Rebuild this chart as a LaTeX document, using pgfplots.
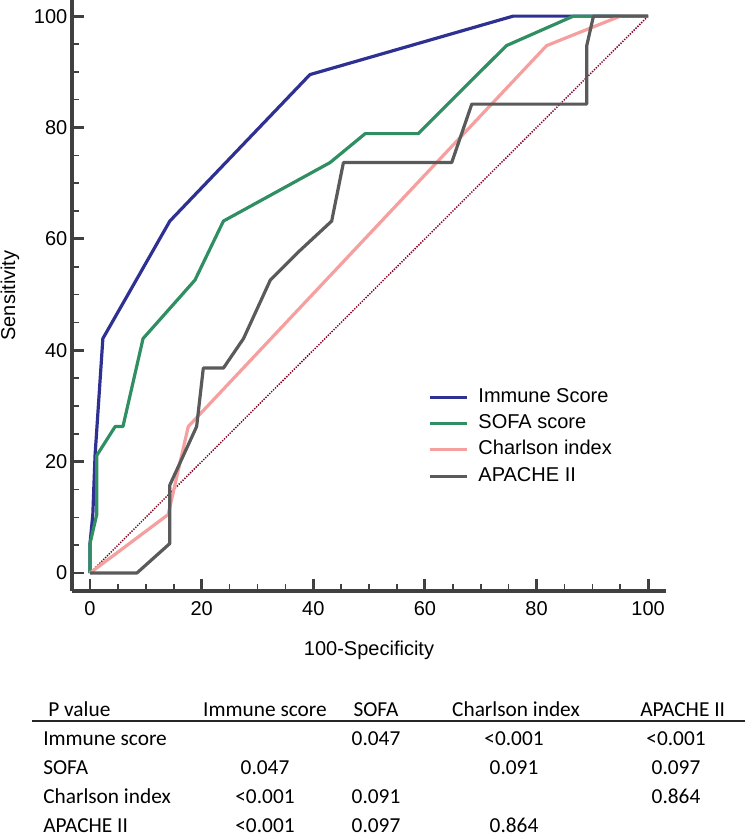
\documentclass[border=0pt]{standalone}
\usepackage{pgfplots}
\pgfplotsset{compat=1.18}
\usepackage{fontspec}
\setmainfont{Liberation Sans}
\newfontfamily\tabfont{Carlito}
\definecolor{cImm}{RGB}{46,49,146}
\definecolor{cSofa}{RGB}{47,143,98}
\definecolor{cCharl}{RGB}{245,160,158}
\definecolor{cApa}{RGB}{90,90,90}
\definecolor{cRef}{RGB}{128,0,32}
\definecolor{cAx}{RGB}{64,64,64}
\tikzset{tab/.style={inner sep=0pt, font=\tabfont\fontsize{16}{19}\selectfont}}
\begin{document}
\begin{tikzpicture}
\begin{axis}[
  at={(0pt,0pt)}, anchor=south west,
  scale only axis, width=445.5pt, height=443.25pt,
  xmin=-3.23, xmax=103.2, ymin=-3.23, ymax=102.9,
  axis lines*=left,
  axis line style={cAx, line width=2.4pt},
  xtick={0,20,...,100}, ytick={0,20,...,100},
  minor tick num=3,
  tick align=inside,
  major tick length=9pt, minor tick length=5.25pt,
  major tick style={cAx, line width=2.2pt},
  minor tick style={cAx, line width=1.2pt},
  tick label style={font=\fontsize{15}{18}\selectfont, text=black},
  /pgf/number format/assume math mode=true,
  xticklabel style={yshift=-4pt},
  label style={font=\fontsize{15}{18}\selectfont},
  xlabel={100-Specificity},
  ylabel={Sensitivity},
  xlabel style={at={(axis description cs:0.5,-0.0998)}, anchor=center},
  ylabel style={at={(axis description cs:-0.1044,0.5)}, anchor=center, inner sep=0pt},
  legend style={draw=none, fill=none, at={(axis description cs:0.5993,0.3448)}, anchor=north west,
    inner sep=0pt, row sep=5.25pt,
    nodes={inner sep=0pt, text height=11pt, text depth=3.5pt, font=\fontsize{15}{18}\selectfont},
    /tikz/every odd column/.style={column sep=7.5pt}},
  legend cell align=left,
  legend image code/.code={\draw[#1, line width=2.4pt] (0pt,0pt) -- (27.75pt,0pt);},
  every axis plot/.append style={line width=2.4pt, line join=round},
]
\addplot[cRef, line width=1.1pt, dash pattern=on 1pt off 1pt, forget plot] coordinates {(0,0) (100,100)};
\addplot[cImm] coordinates {(0,0) (0,5.3) (0.5,10.5) (0.9,21.1) (2.3,42.1) (14.3,63.2) (39.4,89.5) (75.8,100) (100,100)};
\addlegendentry{Immune Score}
\addplot[cSofa] coordinates {(0,0) (0,5.3) (1.2,10.5) (1.2,21.1) (4.5,26.3) (5.9,26.3) (9.5,42.1) (18.8,52.6) (23.9,63.2) (43,73.7) (49.3,78.9) (58.8,78.9) (74.6,94.7) (86.6,100) (100,100)};
\addlegendentry{SOFA score}
\addplot[cCharl] coordinates {(0,0) (14.0,10.5) (17.6,26.3) (81.8,94.7) (95,100) (100,100)};
\addlegendentry{Charlson index}
\addplot[cApa] coordinates {(0,0) (8.4,0) (14.3,5.3) (14.3,15.8) (19.1,26.3) (20.3,36.8) (23.9,36.8) (27.5,42.1) (32.3,52.6) (37.6,57.9) (43.3,63.2) (45.4,73.7) (64.8,73.7) (68.4,84.2) (89,84.2) (89,94.7) (90.2,100) (100,100)};
\addlegendentry{APACHE II}
\end{axis}
% table
\draw[line width=1.5pt, black!85] (-30pt,-97.5pt) -- (504.75pt,-97.5pt);
\node[tab, anchor=base west] at (-18pt,-93.75pt) {P value};
\node[tab, anchor=base] at (144.75pt,-93.75pt) {Immune score};
\node[tab, anchor=base] at (228pt,-93.75pt) {SOFA};
\node[tab, anchor=base] at (333pt,-93.75pt) {Charlson index};
\node[tab, anchor=base] at (458pt,-93.75pt) {APACHE II};
\node[tab, anchor=base west] at (-21.75pt,-115.5pt) {Immune score};
\node[tab, anchor=base] at (228pt,-115.5pt) {0.047};
\node[tab, anchor=base] at (331.5pt,-115.5pt) {<0.001};
\node[tab, anchor=base] at (453pt,-115.5pt) {<0.001};
\node[tab, anchor=base west] at (-21.75pt,-137.5pt) {SOFA};
\node[tab, anchor=base] at (144.75pt,-137.5pt) {0.047};
\node[tab, anchor=base] at (331.5pt,-137.5pt) {0.091};
\node[tab, anchor=base] at (453pt,-137.5pt) {0.097};
\node[tab, anchor=base west] at (-21.75pt,-159.5pt) {Charlson index};
\node[tab, anchor=base] at (144.75pt,-159.5pt) {<0.001};
\node[tab, anchor=base] at (228pt,-159.5pt) {0.091};
\node[tab, anchor=base] at (453pt,-159.5pt) {0.864};
\node[tab, anchor=base west] at (-21.75pt,-181.25pt) {APACHE II};
\node[tab, anchor=base] at (144.75pt,-181.25pt) {<0.001};
\node[tab, anchor=base] at (228pt,-181.25pt) {0.097};
\node[tab, anchor=base] at (331.5pt,-181.25pt) {0.864};
\pgfresetboundingbox
\path[use as bounding box] (-54pt,-184.5pt) rectangle (504.75pt,443.25pt);
\end{tikzpicture}
\end{document}
